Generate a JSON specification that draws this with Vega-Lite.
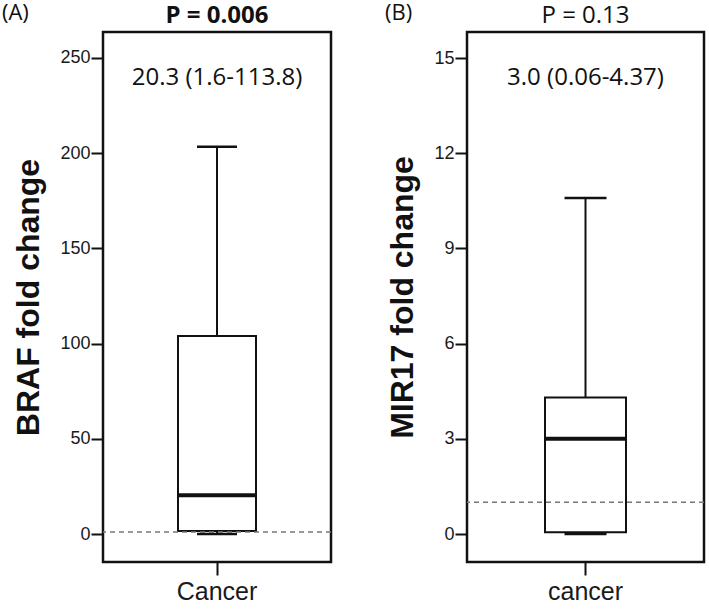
{
  "$schema": "https://vega.github.io/schema/vega-lite/v6.json",
  "background": "white",
  "padding": {"left": 0, "top": 0, "right": 0, "bottom": 0},
  "spacing": 50,
  "config": {
    "view": {"stroke": "#111", "strokeWidth": 2.5},
    "axis": {"domain": false, "grid": false, "tickColor": "#111", "tickWidth": 2, "tickSize": 12, "labelFont": "Liberation Sans", "labelColor": "#1a1a1a", "labelPadding": 1},
    "axisY": {"labelFontSize": 18, "titleFont": "Liberation Sans", "titleFontSize": 32, "titleFontWeight": "bold", "titleColor": "#111", "titlePadding": 14},
    "axisX": {"labelFontSize": 25, "tickSize": 13, "labelPadding": 4, "labelAngle": 0},
    "title": {"font": "Open Sans", "fontSize": 22, "fontWeight": "normal", "color": "#111", "anchor": "start", "frame": "bounds", "offset": -21}
  },
  "hconcat": [
    {
      "width": 228,
      "height": 530,
      "title": {"text": "(A)", "dx": -11},
      "data": {"values": [{"cat": "Cancer", "lower": 0, "q1": 1.6, "median": 20.3, "q3": 104, "upper": 203.3, "note": "20.3 (1.6-113.8)", "p": "P = 0.006"}]},
      "layer": [
        {
          "mark": {"type": "rule", "color": "#111", "strokeWidth": 2},
          "encoding": {
            "x": {"field": "cat", "type": "nominal", "title": null},
            "y": {"field": "lower", "type": "quantitative", "title": "BRAF fold change", "scale": {"domain": [-14.7, 263.6], "nice": false, "zero": false}, "axis": {"values": [0, 50, 100, 150, 200, 250]}},
            "y2": {"field": "upper"}
          }
        },
        {
          "mark": {"type": "bar", "size": 78, "fill": "white", "stroke": "#111", "strokeWidth": 2},
          "encoding": {
            "x": {"field": "cat", "type": "nominal", "title": null},
            "y": {"field": "q1", "type": "quantitative", "title": "BRAF fold change"},
            "y2": {"field": "q3"}
          }
        },
        {
          "mark": {"type": "rule", "color": "#777", "strokeDash": [5, 4], "strokeWidth": 1.5},
          "encoding": {"y": {"datum": 1, "type": "quantitative", "title": "BRAF fold change"}}
        },
        {
          "mark": {"type": "tick", "size": 78, "thickness": 4, "color": "#111", "opacity": 1},
          "encoding": {
            "x": {"field": "cat", "type": "nominal", "title": null},
            "y": {"field": "median", "type": "quantitative", "title": "BRAF fold change"}
          }
        },
        {
          "mark": {"type": "tick", "size": 40, "thickness": 2.5, "color": "#111", "opacity": 1},
          "encoding": {
            "x": {"field": "cat", "type": "nominal", "title": null},
            "y": {"field": "lower", "type": "quantitative", "title": "BRAF fold change"}
          }
        },
        {
          "mark": {"type": "tick", "size": 40, "thickness": 2.5, "color": "#111", "opacity": 1},
          "encoding": {
            "x": {"field": "cat", "type": "nominal", "title": null},
            "y": {"field": "upper", "type": "quantitative", "title": "BRAF fold change"}
          }
        },
        {
          "mark": {"type": "text", "font": "Open Sans", "fontSize": 24, "color": "#111", "baseline": "middle"},
          "encoding": {
            "x": {"field": "cat", "type": "nominal", "title": null},
            "y": {"datum": 239.5, "type": "quantitative", "title": "BRAF fold change"},
            "text": {"field": "note"}
          }
        },
        {
          "mark": {"type": "text", "font": "Open Sans", "fontSize": 24, "fontWeight": "bold", "color": "#111", "baseline": "middle"},
          "encoding": {
            "x": {"field": "cat", "type": "nominal", "title": null},
            "y": {"datum": 272.0, "type": "quantitative", "title": "BRAF fold change"},
            "text": {"field": "p"}
          }
        }
      ]
    },
    {
      "width": 237,
      "height": 530,
      "title": {"text": "(B)", "dx": -2},
      "data": {"values": [{"cat": "cancer", "lower": 0, "q1": 0.06, "median": 3.0, "q3": 4.3, "upper": 10.59, "note": "3.0 (0.06-4.37)", "p": "P = 0.13"}]},
      "layer": [
        {
          "mark": {"type": "rule", "color": "#111", "strokeWidth": 2},
          "encoding": {
            "x": {"field": "cat", "type": "nominal", "title": null},
            "y": {"field": "lower", "type": "quantitative", "title": "MIR17 fold change", "scale": {"domain": [-0.88, 15.82], "nice": false, "zero": false}, "axis": {"values": [0, 3, 6, 9, 12, 15]}},
            "y2": {"field": "upper"}
          }
        },
        {
          "mark": {"type": "bar", "size": 81, "fill": "white", "stroke": "#111", "strokeWidth": 2},
          "encoding": {
            "x": {"field": "cat", "type": "nominal", "title": null},
            "y": {"field": "q1", "type": "quantitative", "title": "MIR17 fold change"},
            "y2": {"field": "q3"}
          }
        },
        {
          "mark": {"type": "rule", "color": "#777", "strokeDash": [5, 4], "strokeWidth": 1.5},
          "encoding": {"y": {"datum": 1, "type": "quantitative", "title": "MIR17 fold change"}}
        },
        {
          "mark": {"type": "tick", "size": 81, "thickness": 4, "color": "#111", "opacity": 1},
          "encoding": {
            "x": {"field": "cat", "type": "nominal", "title": null},
            "y": {"field": "median", "type": "quantitative", "title": "MIR17 fold change"}
          }
        },
        {
          "mark": {"type": "tick", "size": 42, "thickness": 2.5, "color": "#111", "opacity": 1},
          "encoding": {
            "x": {"field": "cat", "type": "nominal", "title": null},
            "y": {"field": "lower", "type": "quantitative", "title": "MIR17 fold change"}
          }
        },
        {
          "mark": {"type": "tick", "size": 42, "thickness": 2.5, "color": "#111", "opacity": 1},
          "encoding": {
            "x": {"field": "cat", "type": "nominal", "title": null},
            "y": {"field": "upper", "type": "quantitative", "title": "MIR17 fold change"}
          }
        },
        {
          "mark": {"type": "text", "font": "Open Sans", "fontSize": 24, "color": "#111", "baseline": "middle"},
          "encoding": {
            "x": {"field": "cat", "type": "nominal", "title": null},
            "y": {"datum": 14.37, "type": "quantitative", "title": "MIR17 fold change"},
            "text": {"field": "note"}
          }
        },
        {
          "mark": {"type": "text", "font": "Open Sans", "fontSize": 24, "color": "#111", "baseline": "middle"},
          "encoding": {
            "x": {"field": "cat", "type": "nominal", "title": null},
            "y": {"datum": 16.32, "type": "quantitative", "title": "MIR17 fold change"},
            "text": {"field": "p"}
          }
        }
      ]
    }
  ]
}
